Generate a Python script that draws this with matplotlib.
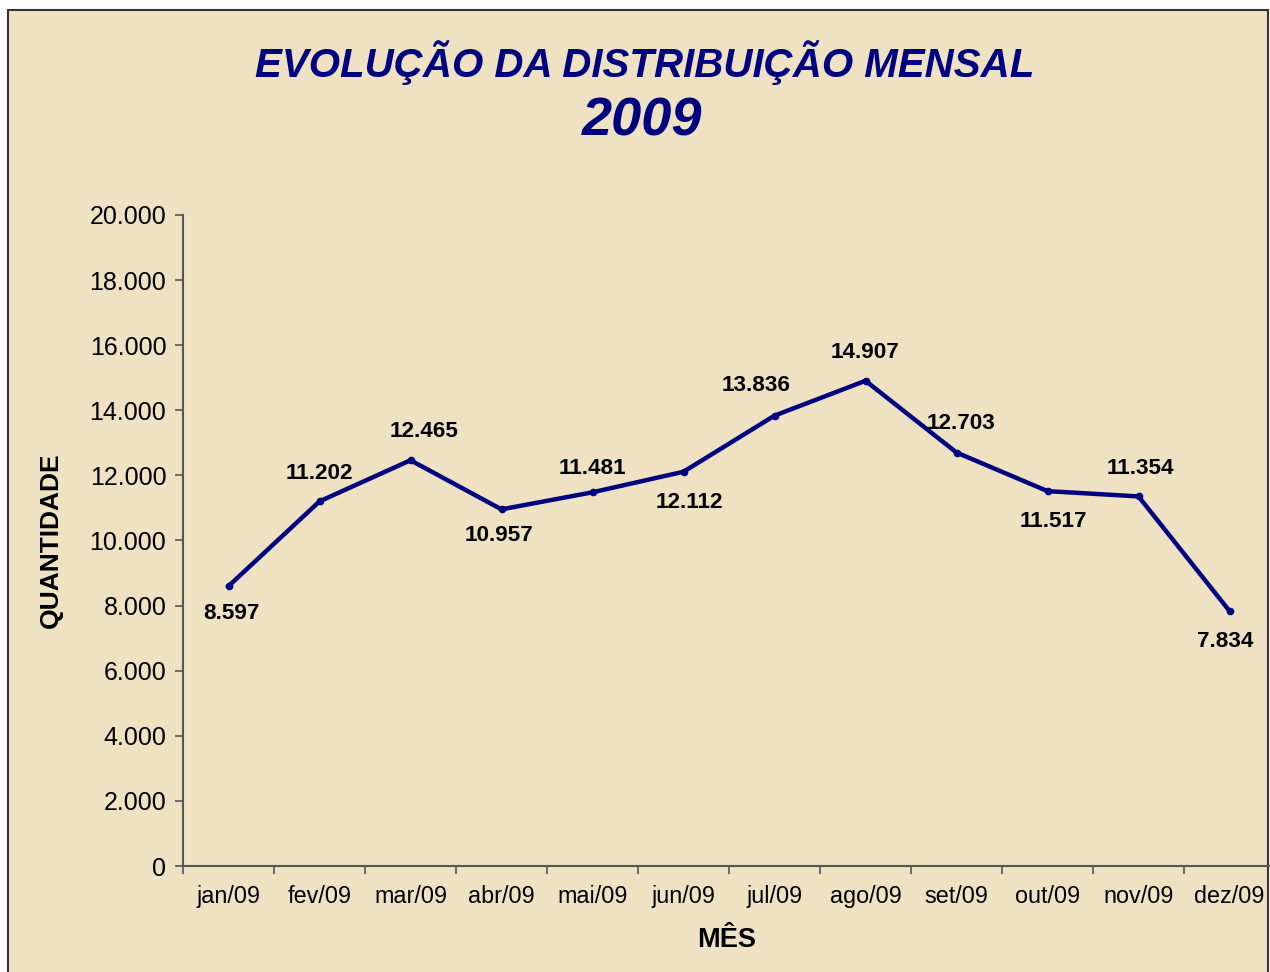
import matplotlib
matplotlib.use('Agg')
import matplotlib.pyplot as plt
from matplotlib.patches import Rectangle
from matplotlib.ticker import FuncFormatter

# monthly distribution 2009
months = ['jan/09', 'fev/09', 'mar/09', 'abr/09', 'mai/09', 'jun/09',
          'jul/09', 'ago/09', 'set/09', 'out/09', 'nov/09', 'dez/09']
quantities = [8597, 11202, 12465, 10957, 11481, 12112,
              13836, 14907, 12703, 11517, 11354, 7834]

# label offsets in points (dx, dy)
label_offsets = [(2, -20), (0, 20), (10, 21), (-2, -19), (0, 17), (4, -22),
                 (-13, 22), (0, 20), (3, 21), (4, -22), (1, 20), (-3, -22)]

plt.rcParams['font.family'] = ['Liberation Sans', 'DejaVu Sans']

bg = '#eee2c3'
fig = plt.figure(figsize=(12.7, 9.72), dpi=100)
fig.patch.set_facecolor('white')

# parchment panel with dark border
panel = Rectangle((8 / 1270, -0.02), 1260 / 1270, 1 - 10 / 972 + 0.02,
                  transform=fig.transFigure, facecolor=bg, edgecolor='#333333',
                  linewidth=1.5, zorder=-10)
fig.patches.append(panel)

ax = fig.add_axes([183 / 1270, 1 - 866 / 972, 1092 / 1270, (866 - 215) / 972])
ax.set_facecolor('none')

x = list(range(len(months)))
ax.plot(x, quantities, color='#000080', linewidth=3.2, marker='o', markersize=4.5,
        solid_joinstyle='miter')

for xi, q, (dx, dy) in zip(x, quantities, label_offsets):
    txt = f'{q:,}'.replace(',', '.')
    ax.annotate(txt, (xi, q), xytext=(dx, dy), textcoords='offset points',
                ha='center', va='center', fontsize=16.2, fontweight='bold', color='black')

ax.set_xlim(-0.5, len(months) - 0.5)
ax.set_ylim(0, 20000)
ax.set_yticks(range(0, 20001, 2000))
ax.yaxis.set_major_formatter(FuncFormatter(lambda v, p: f'{int(v):,}'.replace(',', '.')))

ax.set_xticks([i - 0.5 for i in range(len(months) + 1)])
ax.set_xticklabels([])
ax.set_xticks(x, minor=True)
ax.set_xticklabels(months, minor=True)
ax.tick_params(axis='x', which='minor', length=0, pad=14, labelsize=16.8)
ax.tick_params(axis='x', which='major', length=6, width=1.2, color='#555555')
ax.tick_params(axis='y', length=6, width=1.2, color='#555555', labelsize=18, pad=6)

for s in ['top', 'right']:
    ax.spines[s].set_visible(False)
for s in ['left', 'bottom']:
    ax.spines[s].set_color('#555555')
    ax.spines[s].set_linewidth(1.5)

ax.set_ylabel('QUANTIDADE', fontsize=19, fontweight='bold')
ax.yaxis.set_label_coords((63 - 183) / 1092, 0.5)
fig.text(727 / 1270, 1 - 940 / 972, 'MÊS', ha='center', va='center',
         fontsize=19.5, fontweight='bold')

fig.text(645 / 1270, 1 - 63 / 972, 'EVOLUÇÃO DA DISTRIBUIÇÃO MENSAL', ha='center',
         va='center', fontsize=29, fontweight='bold', fontstyle='italic', color='#000080')
fig.text(642 / 1270, 1 - 122 / 972, '2009', ha='center', va='center',
         fontsize=39, fontweight='bold', fontstyle='italic', color='#000080')

fig.savefig('out.png', dpi=100, facecolor=fig.get_facecolor())
